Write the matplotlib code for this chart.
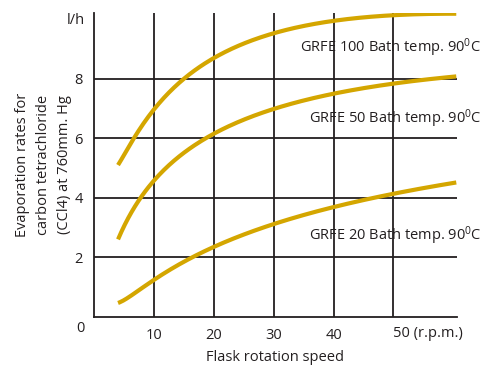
import matplotlib
matplotlib.use('Agg')
import matplotlib.pyplot as plt
import numpy as np

plt.rcParams['font.family'] = ['Open Sans', 'DejaVu Sans']
plt.rcParams['mathtext.fontset'] = 'custom'
plt.rcParams['mathtext.rm'] = 'Open Sans'
plt.rcParams['mathtext.it'] = 'Open Sans'

# speed (r.p.m.) and evaporation (l/h)
speed = [4, 10, 20, 30, 40, 50, 60.5]
grfe100 = [5.1, 6.95, 8.7, 9.55, 9.9, 10.1, 10.2]
grfe50 = [2.6, 4.6, 6.1, 7.0, 7.5, 7.85, 8.05]
grfe20 = [0.47, 1.25, 2.35, 3.1, 3.7, 4.15, 4.5]
labels = ['GRFE 100 Bath temp. 90$^{0}$C', 'GRFE 50 Bath temp. 90$^{0}$C',
          'GRFE 20 Bath temp. 90$^{0}$C']
label_y = [9.05, 6.65, 2.72]
xticks = [10, 20, 30, 40]
yticks = [2, 4, 6, 8]

col = '#d4a600'
dark = '#231f20'

fig = plt.figure(figsize=(4.85, 3.65), dpi=100)
ax = fig.add_axes([0.194, 0.1315, 0.748, 0.833])

# smooth the curves through the read points
for ys in (grfe100, grfe50, grfe20):
    xs = np.linspace(speed[0], speed[-1], 200)
    c = np.polyfit(np.log(speed), ys, 3)
    ax.plot(xs, np.polyval(c, np.log(xs)), color=col, lw=3.0, solid_capstyle='butt')

for g in xticks + [50]:
    ax.axvline(g, color=dark, lw=1.3, zorder=0)
for g in yticks:
    ax.axhline(g, color=dark, lw=1.3, zorder=0)

ax.set_xlim(0, 60.6)
ax.set_ylim(0, 10.2)
ax.set_xticks(xticks)
ax.set_yticks(yticks)
ax.tick_params(length=0, labelsize=10.5, colors=dark, pad=8)
for s in ['top', 'right']:
    ax.spines[s].set_visible(False)
for s in ['left', 'bottom']:
    ax.spines[s].set_color(dark)
    ax.spines[s].set_linewidth(1.3)

ax.text(49.9, -0.3, '50 (r.p.m.)', ha='left', va='top', fontsize=10.5, color=dark)
ax.text(-1.6, -0.15, '0', ha='right', va='top', fontsize=10.5, color=dark)
ax.text(-1.6, 9.95, 'l/h', ha='right', va='center', fontsize=10.5, color=dark)

for t, y in zip(labels, label_y):
    ax.text(64.7, y, t, ha='right', va='center', fontsize=10.5, color=dark, clip_on=False)

ax.set_ylabel('Evaporation rates for\ncarbon tetrachloride\n(CCl4) at 760mm. Hg',
              fontsize=10.5, color=dark, labelpad=2, linespacing=1.55)
ax.set_xlabel('Flask rotation speed', fontsize=10.5, color=dark, labelpad=5)

fig.savefig('out.png', dpi=100)
